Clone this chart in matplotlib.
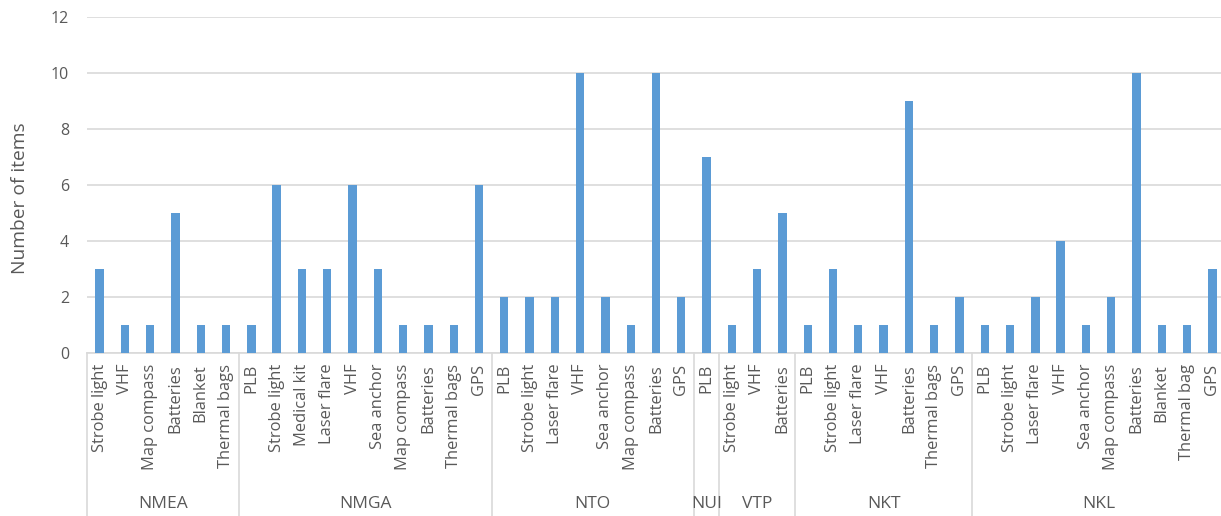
import matplotlib
matplotlib.use("Agg")
import matplotlib.pyplot as plt
from matplotlib.transforms import blended_transform_factory

groups = ["NMEA", "NMGA", "NTO", "NUI", "VTP", "NKT", "NKL"]
nmea_items = ["Strobe light", "VHF", "Map compass", "Batteries", "Blanket", "Thermal bags"]
nmea_vals = [3, 1, 1, 5, 1, 1]
nmga_items = ["PLB", "Strobe light", "Medical kit", "Laser flare", "VHF", "Sea anchor",
              "Map compass", "Batteries", "Thermal bags", "GPS"]
nmga_vals = [1, 6, 3, 3, 6, 3, 1, 1, 1, 6]
nto_items = ["PLB", "Strobe light", "Laser flare", "VHF", "Sea anchor", "Map compass",
             "Batteries", "GPS"]
nto_vals = [2, 2, 2, 10, 2, 1, 10, 2]
nui_items = ["PLB"]
nui_vals = [7]
vtp_items = ["Strobe light", "VHF", "Batteries"]
vtp_vals = [1, 3, 5]
nkt_items = ["PLB", "Strobe light", "Laser flare", "VHF", "Batteries", "Thermal bags", "GPS"]
nkt_vals = [1, 3, 1, 1, 9, 1, 2]
nkl_items = ["PLB", "Strobe light", "Laser flare", "VHF", "Sea anchor", "Map compass",
             "Batteries", "Blanket", "Thermal bag", "GPS"]
nkl_vals = [1, 1, 2, 4, 1, 2, 10, 1, 1, 3]

group_items = [nmea_items, nmga_items, nto_items, nui_items, vtp_items, nkt_items, nkl_items]
group_vals = [nmea_vals, nmga_vals, nto_vals, nui_vals, vtp_vals, nkt_vals, nkl_vals]

labels = [lab for items in group_items for lab in items]
values = [v for vals in group_vals for v in vals]
positions = list(range(len(values)))

plt.rcParams['font.family'] = ['Open Sans', 'DejaVu Sans']
text_color = "#595959"
grid_color = "#D9D9D9"
bar_color = "#5B9BD5"

W, H = 1221, 516
fig = plt.figure(figsize=(W / 100, H / 100), dpi=100)
left_px, right_px, zero_px, top_px = 87, 1225, 352.7, 17
ax = fig.add_axes([left_px / W, (H - zero_px) / H,
                   (right_px - left_px) / W, (zero_px - top_px) / H])

ax.bar(positions, values, width=0.33, color=bar_color, zorder=3)
ax.set_xlim(-0.5, len(values) - 0.5)
ax.set_ylim(0, 12)
ax.set_yticks(range(0, 13, 2))
ax.yaxis.grid(True, color=grid_color, linewidth=1.2, zorder=0)
ax.tick_params(axis='y', length=0, pad=13, labelsize=11.5, labelcolor=text_color)

ax.set_xticks(positions)
ax.set_xticklabels(labels, rotation=90, fontsize=11.9, color=text_color)
ax.tick_params(axis='x', length=0, pad=8)

for side in ("top", "right", "left"):
    ax.spines[side].set_visible(False)
ax.spines["bottom"].set_color(grid_color)
ax.spines["bottom"].set_linewidth(1.2)

# Vertical axis title
fig.text(20 / W, 1 - 198 / H, "Number of items", rotation=90, ha='center',
         va='center', fontsize=13.8, color=text_color)

# Group separators and group names beneath the item labels
trans = blended_transform_factory(ax.transData, ax.transAxes)
start = 0
bottom_frac = -(H - zero_px) / (zero_px - top_px) - 0.02
ax.plot([-0.5, -0.5], [0, bottom_frac], transform=trans, color=grid_color,
        linewidth=1.2, clip_on=False)
for name, items in zip(groups, group_items):
    end = start + len(items)
    ax.plot([end - 0.5, end - 0.5], [0, bottom_frac], transform=trans,
            color=grid_color, linewidth=1.2, clip_on=False)
    ax.text((start + end - 1) / 2, -(504 - zero_px) / (zero_px - top_px), name,
            transform=trans, ha='center', va='center', fontsize=12.5, color=text_color)
    start = end

fig.savefig("out.png", dpi=100)
